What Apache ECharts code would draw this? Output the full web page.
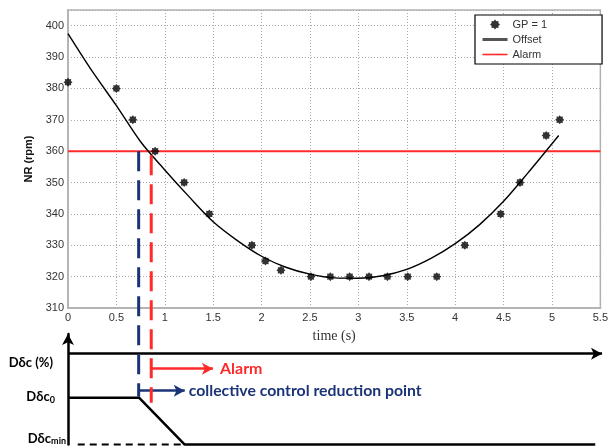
<!DOCTYPE html>
<html>
<head>
<meta charset="utf-8">
<script src="https://cdn.jsdelivr.net/npm/echarts@6/dist/echarts.min.js"></script>
<style>html,body{margin:0;padding:0;background:#fff;}#c{width:611px;height:446px;}</style>
</head>
<body>
<div id="c"></div>
<script>
// ---- data ----
const gpTimes = [0, 0.5, 0.67, 0.9, 1.2, 1.46, 1.9, 2.04, 2.2, 2.51, 2.71, 2.91, 3.11, 3.3, 3.51, 3.81, 4.1, 4.47, 4.67, 4.94, 5.08];
const gpValues = [382, 380, 370, 360, 350, 340, 330, 325, 322, 320, 320, 320, 320, 320, 320, 320, 330, 340, 350, 365, 370];
const offsetTimes = [0, 0.25, 0.5, 0.75, 1, 1.25, 1.5, 1.75, 2, 2.25, 2.5, 2.75, 3, 3.25, 3.5, 3.75, 4, 4.25, 4.5, 4.75, 5.07];
const offsetValues = [397.5, 385.5, 374.5, 363, 354, 345.5, 337.5, 331.5, 326.5, 323, 320.8, 319.6, 319.5, 320.3, 322.3, 325.8, 330.5, 336.5, 344, 353, 365];
const alarmLevel = 360;
const xTicks = [0, 5.5, 0.5];       // min, max, interval
const yTicks = [310, 405, 10];      // min, max, interval
const legendNames = ['GP = 1', 'Offset', 'Alarm'];

// schematic (lower panel)
const reductionTime = 0.73;   // collective control reduction point
const alarmTime = 0.86;       // alarm time
const minReachedTime = 1.2;   // Dδc reaches Dδc_min
const schematicEnd = 5.42;
const dashedStart = 0.1;
const dc0 = 1, dcMin = 0;
const blueDashRpm = [360, 281.7];
const redDashRpm = [358.7, 279.8];
const schemLabelLevels = [1.74, 1.02, 0.13];
const timeArrowLevel = 1.94, alarmArrowLevel = 1.62, reductionArrowLevel = 1.15;
const alarmArrowEnd = 1.49, reductionArrowEnd = 1.2;

// ---- symbol for '*' marker ----
function starPath(n, ro, ri) {
  let s = 'path://';
  for (let k = 0; k < 2 * n; k++) {
    const a = Math.PI * k / n - Math.PI / 2;
    const r = k % 2 === 0 ? ro : ri;
    s += (k === 0 ? 'M' : 'L') + (r * Math.cos(a)).toFixed(2) + ',' + (r * Math.sin(a)).toFixed(2) + ' ';
  }
  return s + 'Z';
}
const starSym = starPath(8, 10, 7.2);

const chart = echarts.init(document.getElementById('c'), null, {renderer: 'canvas'});
const gray = '#b4b4b4';
const navy = '#1b3478';
const red = '#ff2a2a';
const hiddenIcon = {color: 'rgba(0,0,0,0)', borderWidth: 0, opacity: 0};

const option = {
  animation: false,
  backgroundColor: '#fff',
  grid: [
    {left: 68, right: 8, top: 10, bottom: 138, show: true, borderColor: gray, borderWidth: 1.5},
    {left: 68, right: 8, top: 334, bottom: 1}
  ],
  legend: {
    data: [
      {name: legendNames[0]},
      {name: legendNames[1], itemStyle: hiddenIcon, lineStyle: {color: '#555', width: 3}},
      {name: legendNames[2], itemStyle: hiddenIcon, lineStyle: {color: red, width: 1.6}}
    ],
    orient: 'vertical',
    left: 475, top: 15,
    backgroundColor: '#fff',
    borderColor: '#000', borderWidth: 1.2,
    padding: [4, 55, 4, 6],
    itemWidth: 25, itemHeight: 10, itemGap: 4,
    textStyle: {fontFamily: 'Liberation Sans, Arial', fontSize: 11, color: '#333'}
  },
  xAxis: [
    {
      type: 'value', gridIndex: 0, min: xTicks[0], max: xTicks[1], interval: xTicks[2],
      name: 'time (s)', nameLocation: 'middle', nameGap: 21,
      nameTextStyle: {fontFamily: 'Liberation Serif, Times New Roman', fontSize: 14, color: '#333'},
      axisLine: {lineStyle: {color: gray, width: 2}},
      axisTick: {show: false},
      axisLabel: {fontFamily: 'Liberation Sans, Arial', fontSize: 11, color: '#333', margin: 4},
      splitLine: {lineStyle: {type: [1, 2], color: '#a8a8a8', width: 1}}
    },
    {type: 'value', gridIndex: 1, min: xTicks[0], max: xTicks[1], show: false}
  ],
  yAxis: [
    {
      type: 'value', gridIndex: 0, min: yTicks[0], max: yTicks[1], interval: yTicks[2],
      name: 'NR (rpm)', nameLocation: 'middle', nameGap: 25,
      nameTextStyle: {fontFamily: 'Liberation Sans, Arial', fontSize: 11, fontWeight: 'bold', color: '#111'},
      axisLine: {lineStyle: {color: gray, width: 2}},
      axisTick: {show: false},
      axisLabel: {fontFamily: 'Liberation Sans, Arial', fontSize: 11, color: '#333', margin: 4, showMaxLabel: false},
      splitLine: {lineStyle: {type: [1, 2], color: '#a8a8a8', width: 1}}
    },
    {
      type: 'value', gridIndex: 1, min: 0, max: 2.36,
      axisLine: {show: true, onZero: false, symbol: ['none', 'arrow'], symbolSize: [9, 11], symbolOffset: [0, 0],
        lineStyle: {color: '#000', width: 2.5}},
      axisTick: {show: false},
      splitLine: {show: false},
      axisLabel: {
        show: true, margin: 2, align: 'right',
        customValues: schemLabelLevels,
        formatter: function (v) {
          if (v === schemLabelLevels[0]) return '{a|Dδc (%)}{pa|}';
          if (v === schemLabelLevels[1]) return '{b|Dδc}{s|0}{pb|}';
          return '{b|Dδc}{s|min}';
        },
        rich: {
          a: {fontFamily: 'Lato, Open Sans', fontWeight: 'bold', fontSize: 13, color: '#000'},
          b: {fontFamily: 'Lato, Open Sans', fontWeight: 'bold', fontSize: 13, color: '#000'},
          s: {fontFamily: 'Lato, Open Sans', fontWeight: 'bold', fontSize: 9, color: '#000', padding: [6, 0, 0, 0]},
          pa: {width: 13},
          pb: {width: 11}
        }
      }
    }
  ],
  series: [
    {
      name: 'GP = 1', type: 'scatter', xAxisIndex: 0, yAxisIndex: 0,
      symbol: starSym, symbolSize: 9,
      itemStyle: {color: '#000'},
      data: gpTimes.map((t, i) => [t, gpValues[i]]),
      z: 5
    },
    {
      name: 'Offset', type: 'line', xAxisIndex: 0, yAxisIndex: 0,
      smooth: 0.3, symbol: 'none',
      lineStyle: {color: '#000', width: 1.4},
      itemStyle: {color: '#555'},
      data: offsetTimes.map((t, i) => [t, offsetValues[i]]),
      z: 4
    },
    {
      name: 'Alarm', type: 'line', xAxisIndex: 0, yAxisIndex: 0,
      symbol: 'none',
      lineStyle: {color: red, width: 2},
      itemStyle: {color: red},
      data: [[xTicks[0], alarmLevel], [xTicks[1], alarmLevel]],
      z: 3
    },
    {
      name: 'reductionDash', type: 'line', xAxisIndex: 0, yAxisIndex: 0,
      symbol: 'none', clip: false,
      lineStyle: {color: navy, width: 3, type: [20, 9]},
      data: [[reductionTime, blueDashRpm[0]], [reductionTime, blueDashRpm[1]]],
      z: 6
    },
    {
      name: 'alarmDash', type: 'line', xAxisIndex: 0, yAxisIndex: 0,
      symbol: 'none', clip: false,
      lineStyle: {color: red, width: 3, type: [20, 9]},
      data: [[alarmTime, redDashRpm[0]], [alarmTime, redDashRpm[1]]],
      z: 6
    },
    {
      name: 'dcMinDashed', type: 'line', xAxisIndex: 1, yAxisIndex: 1,
      symbol: 'none', clip: false,
      lineStyle: {color: '#000', width: 2, type: [7, 5]},
      data: [[dashedStart, dcMin], [minReachedTime, dcMin]]
    },
    {
      name: 'schematic', type: 'line', xAxisIndex: 1, yAxisIndex: 1,
      symbol: 'none', clip: false,
      lineStyle: {color: '#000', width: 2.5},
      data: [[0, dc0], [reductionTime, dc0], [minReachedTime, dcMin], [schematicEnd, dcMin]],
      markLine: {
        silent: true, animation: false,
        symbol: ['none', 'arrow'], symbolSize: [9, 11],
        data: [
          [
            {coord: [xTicks[0], timeArrowLevel], lineStyle: {color: '#000', width: 2.5, type: 'solid'}, label: {show: false}},
            {coord: [xTicks[1] - 0.01, timeArrowLevel]}
          ],
          [
            {coord: [alarmTime, alarmArrowLevel], lineStyle: {color: red, width: 2.5, type: 'solid'},
              label: {show: true, position: 'end', distance: 7, formatter: 'Alarm', color: red,
                fontFamily: 'Lato, Open Sans', fontWeight: 'bold', fontSize: 16}},
            {coord: [alarmArrowEnd, alarmArrowLevel]}
          ],
          [
            {coord: [reductionTime, reductionArrowLevel], lineStyle: {color: navy, width: 2.5, type: 'solid'},
              label: {show: true, position: 'end', distance: 4, formatter: 'collective control reduction point', color: navy,
                fontFamily: 'Lato, Open Sans', fontWeight: 'bold', fontSize: 15.8}},
            {coord: [reductionArrowEnd, reductionArrowLevel]}
          ]
        ]
      }
    }
  ]
};
chart.setOption(option);
</script>
</body>
</html>
